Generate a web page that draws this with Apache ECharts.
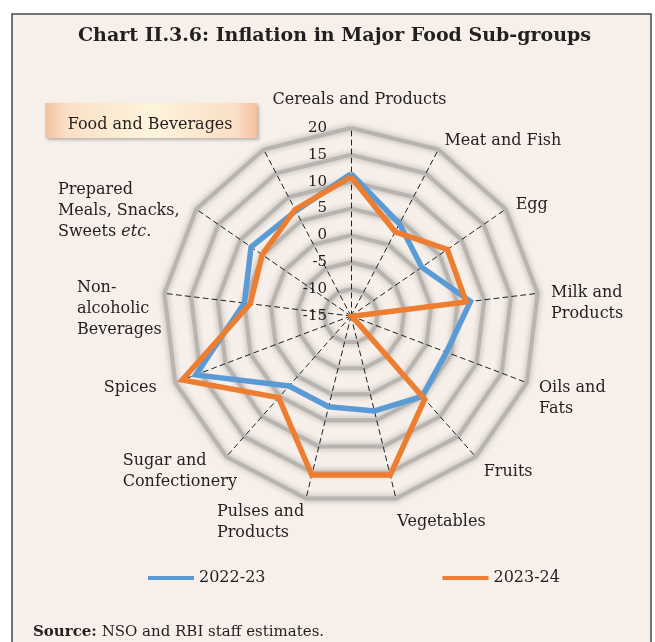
<!DOCTYPE html>
<html>
<head>
<meta charset="utf-8">
<script src="https://cdn.jsdelivr.net/npm/echarts@6/dist/echarts.min.js"></script>
<style>
  html, body { margin: 0; padding: 0; background: #fff; }
  #chart { width: 655px; height: 642px; }
</style>
</head>
<body>
<div id="chart"></div>
<script>
// sub-groups, clockwise from the top as in the original chart
const CATEGORIES = [
  'Cereals and Products', 'Meat and Fish', 'Egg', 'Milk and\nProducts', 'Oils and\nFats',
  'Fruits', 'Vegetables', 'Pulses and\nProducts', 'Sugar and\nConfectionery', 'Spices',
  'Non-\nalcoholic\nBeverages', 'Prepared\nMeals, Snacks,\nSweets etc.', 'Food and Beverages',
];
const SERIES_NAMES = ['2022-23', '2023-24'];
const INFL_2022_23 = [11.5, 4.4, 1.0, 7.4, 4.0, 5.0, 3.2, 2.4, 2.4, 15.9, 5.0, 7.6, 7.1];
const INFL_2023_24 = [10.9, 2.7, 6.8, 6.6, -14.8, 5.7, 15.5, 15.5, 5.3, 18.6, 3.9, 5.1, 7.4];
const AXIS_TICKS = [-15, -10, -5, 0, 5, 10, 15, 20];

// label offsets from the spoke end (padding: top, right, bottom, left)
const NAME_PAD = [
  [0, 0, 56, 17], [0, 0, 17, 129], [0, 0, 8, 52], [20, 0, 0, 99], [31, 0, 0, 91],
  [31, 0, 0, 65], [47, 0, 0, 91], [48, 91, 0, 0], [29, 93, 0, 0], [11, 90, 0, 0],
  [31, 90, 0, 0], [4, 155, 0, 0], [0, 227, 49, 0],
];

const COLORS = {
  blue:   '#5B9BD5',
  orange: '#ED7D31',
  bg:     '#F6EFEA',
  text:   '#231F20',
  ring:   '#B8B4B0',
};
const FONT = 'DejaVu Serif';

// echarts lays indicators out counter-clockwise, so flip everything after the first
const clockwise = (arr) => [arr[0], ...arr.slice(1).reverse()];

const names = clockwise(CATEGORIES);
const pads = clockwise(NAME_PAD);
const indicator = names.map((name, i) => {
  const ind = {
    name,
    min: AXIS_TICKS[0],
    max: AXIS_TICKS[AXIS_TICKS.length - 1],
    nameTextStyle: { padding: pads[i] },
  };
  if (i === 0) {
    ind.axisLabel = { show: true, margin: 24, color: COLORS.text, fontFamily: FONT, fontSize: 15 };
  }
  return ind;
});

function formatName(name) {
  return name.split('\n')
    .map((line) => '{l|' + line.replace('etc', '}{i|etc}{l|') + '}')
    .join('\n');
}

const chart = echarts.init(document.getElementById('chart'), null, { renderer: 'canvas' });

chart.setOption({
  backgroundColor: '#fff',
  animation: false,
  title: [
    {
      text: 'Chart II.3.6: Inflation in Major Food Sub-groups',
      left: 73,
      top: 22,
      textStyle: { fontFamily: FONT, fontWeight: 'bold', fontSize: 19, color: COLORS.text },
    },
    {
      text: '{b|Source:} NSO and RBI staff estimates.',
      left: 28,
      top: 620,
      textStyle: {
        fontFamily: FONT, fontSize: 15, fontWeight: 'normal', color: COLORS.text,
        rich: { b: { fontFamily: FONT, fontSize: 15, fontWeight: 'bold', color: COLORS.text } },
      },
    },
  ],
  graphic: [
    {
      type: 'rect',
      z: -20,
      shape: { x: 12, y: 14, width: 639, height: 640 },
      style: { fill: COLORS.bg, stroke: '#4A4A4A', lineWidth: 1.5 },
    },
    {
      type: 'rect',
      z: -10,
      shape: { x: 45, y: 103, width: 212, height: 35 },
      style: {
        fill: new echarts.graphic.LinearGradient(0, 0, 1, 0, [
          { offset: 0, color: '#F4C0A0' },
          { offset: 0.1, color: '#FADFC6' },
          { offset: 0.5, color: '#FDF4DC' },
          { offset: 0.9, color: '#FADFC6' },
          { offset: 1, color: '#F4C0A0' },
        ]),
        shadowBlur: 3,
        shadowOffsetX: 2,
        shadowOffsetY: 2,
        shadowColor: 'rgba(0,0,0,0.25)',
      },
    },
  ],
  legend: {
    data: SERIES_NAMES,
    left: 143,
    top: 565,
    icon: 'rect',
    itemWidth: 46,
    itemHeight: 4,
    itemGap: 177,
    textStyle: { fontFamily: FONT, fontSize: 16, color: COLORS.text },
  },
  radar: {
    center: [351, 316],
    radius: 188,
    startAngle: 90,
    shape: 'polygon',
    splitNumber: AXIS_TICKS.length - 1,
    axisNameGap: 0,
    indicator,
    axisName: {
      color: COLORS.text,
      fontFamily: FONT,
      fontSize: 16,
      align: 'center',
      verticalAlign: 'middle',
      formatter: formatName,
      rich: {
        l: { align: 'left', fontFamily: FONT, fontSize: 16, lineHeight: 21, color: COLORS.text },
        i: { align: 'left', fontFamily: FONT, fontSize: 16, lineHeight: 21, fontStyle: 'italic', color: COLORS.text },
      },
    },
    axisLine: { lineStyle: { color: '#222', width: 1, type: [5, 4] } },
    axisTick: { show: false },
    axisLabel: { show: false },
    splitLine: {
      lineStyle: { color: COLORS.ring, width: 4, shadowBlur: 6, shadowColor: 'rgba(0,0,0,0.3)' },
    },
    splitArea: { show: false },
  },
  series: [
    {
      type: 'radar',
      symbol: 'none',
      data: [
        {
          name: SERIES_NAMES[0],
          value: clockwise(INFL_2022_23),
          itemStyle: { color: COLORS.blue },
          lineStyle: { color: COLORS.blue, width: 5.5, join: 'miter' },
        },
        {
          name: SERIES_NAMES[1],
          value: clockwise(INFL_2023_24),
          itemStyle: { color: COLORS.orange },
          lineStyle: { color: COLORS.orange, width: 5.5, join: 'miter' },
        },
      ],
    },
  ],
});
</script>
</body>
</html>
